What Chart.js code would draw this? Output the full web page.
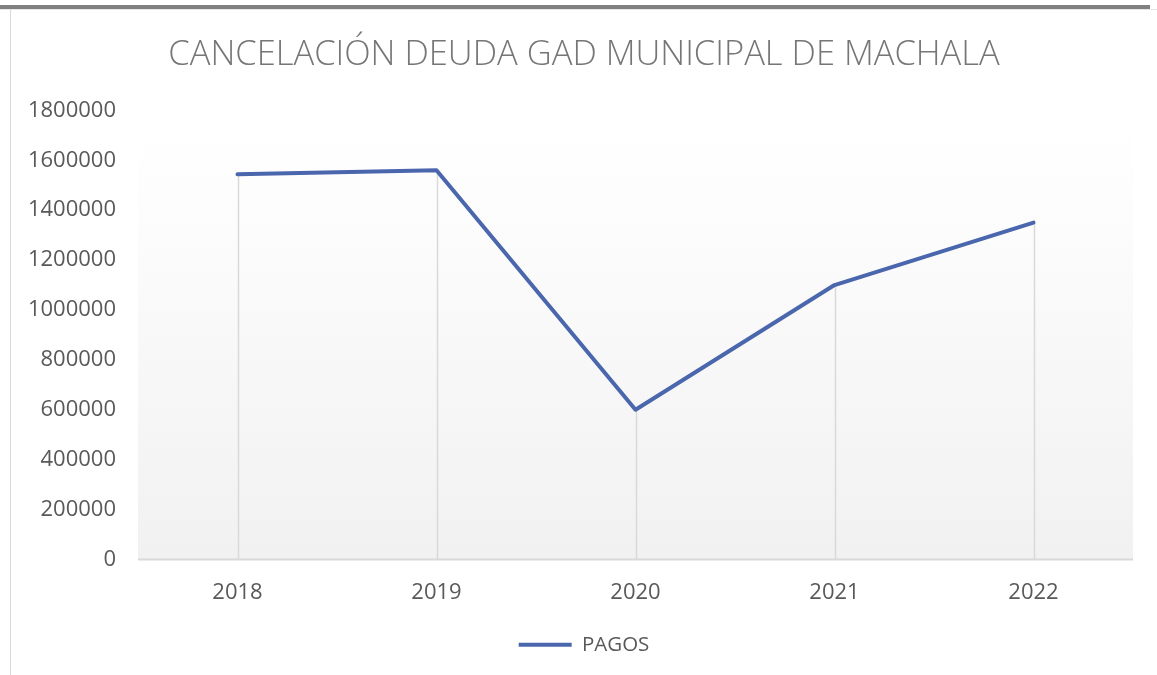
<!DOCTYPE html>
<html>
<head>
<meta charset="utf-8">
<script src="https://cdn.jsdelivr.net/npm/chart.js@4"></script>
<style>
html,body{margin:0;padding:0;background:#fff;}
#wrap{width:1157px;height:675px;position:relative;}
</style>
</head>
<body>
<div id="wrap"><canvas id="c" width="1157" height="675"></canvas></div>
<script>
const categories = ['2018', '2019', '2020', '2021', '2022'];
const pagos = [1544000, 1560000, 600000, 1100000, 1350000];
const yTicks = [0, 200000, 400000, 600000, 800000, 1000000, 1200000, 1400000, 1600000, 1800000];
const seriesName = 'PAGOS';
const titleText = 'CANCELACIÓN DEUDA GAD MUNICIPAL DE MACHALA';

const frame = {
  id: 'frame',
  beforeDraw(chart) {
    const {ctx, chartArea: a} = chart;
    ctx.save();
    ctx.fillStyle = '#ffffff';
    ctx.fillRect(0, 0, chart.width, chart.height);
    ctx.fillStyle = '#808080';
    ctx.fillRect(0, 5, 1150, 4);
    ctx.fillStyle = '#e6e6e6';
    ctx.fillRect(0, 9, 1157, 1);
    ctx.fillStyle = '#d9d9d9';
    ctx.fillRect(10, 10, 1, chart.height - 10);
    const g = ctx.createLinearGradient(0, a.top, 0, a.bottom);
    g.addColorStop(0, '#ffffff');
    g.addColorStop(0.12, '#fefefe');
    g.addColorStop(1, '#f1f1f1');
    ctx.fillStyle = g;
    ctx.fillRect(a.left, a.top, a.right - a.left, a.bottom - a.top);
    ctx.restore();
  },
  beforeDatasetsDraw(chart) {
    const {ctx, chartArea: a} = chart;
    const meta = chart.getDatasetMeta(0);
    ctx.save();
    ctx.strokeStyle = '#d9d9d9';
    ctx.lineWidth = 1.5;
    meta.data.forEach(p => {
      ctx.beginPath();
      ctx.moveTo(Math.round(p.x) + 0.5, p.y);
      ctx.lineTo(Math.round(p.x) + 0.5, a.bottom);
      ctx.stroke();
    });
    ctx.lineWidth = 2;
    ctx.beginPath();
    ctx.moveTo(a.left, a.bottom);
    ctx.lineTo(a.right, a.bottom);
    ctx.stroke();
    ctx.restore();
  }
};

new Chart(document.getElementById('c'), {
  type: 'line',
  data: {
    labels: categories,
    datasets: [{
      label: seriesName,
      data: pagos,
      borderColor: '#4a66ad',
      backgroundColor: '#4a66ad',
      borderWidth: 4,
      pointRadius: 0,
      pointHoverRadius: 0,
      tension: 0,
      borderCapStyle: 'round',
      borderJoinStyle: 'round'
    }]
  },
  options: {
    responsive: false,
    animation: false,
    layout: {padding: {top: 0, left: 11, right: 0, bottom: 10}},
    plugins: {
      title: {
        display: true,
        text: titleText,
        color: '#767676',
        font: {family: 'Open Sans', size: 34.5, weight: '300'},
        padding: {top: 34, bottom: 35}
      },
      legend: {
        display: true,
        position: 'bottom',
        labels: {
          usePointStyle: true,
          pointStyle: 'line',
          pointStyleWidth: 53,
          color: '#595959',
          font: {family: 'Open Sans', size: 20.5},
          padding: 10
        }
      },
      tooltip: {enabled: false}
    },
    scales: {
      x: {
        offset: true,
        grid: {display: false, drawTicks: false},
        border: {display: false},
        ticks: {color: '#595959', font: {family: 'Open Sans', size: 22}, padding: 20},
        afterFit(s) { s.height = 65; }
      },
      y: {
        min: 0,
        max: 1800000,
        afterBuildTicks(s) { s.ticks = yTicks.map(v => ({value: v})); },
        grid: {display: false, drawTicks: false},
        border: {display: false},
        ticks: {color: '#595959', font: {family: 'Open Sans', size: 22}, padding: 22, callback: v => String(v)},
        afterFit(s) { s.width = 127; }
      },
      yRight: {
        position: 'right',
        display: true,
        min: 0,
        max: 1800000,
        grid: {display: false, drawTicks: false},
        border: {display: false},
        ticks: {display: false},
        afterFit(s) { s.width = 24; }
      }
    }
  },
  plugins: [frame]
});
</script>
</body>
</html>
